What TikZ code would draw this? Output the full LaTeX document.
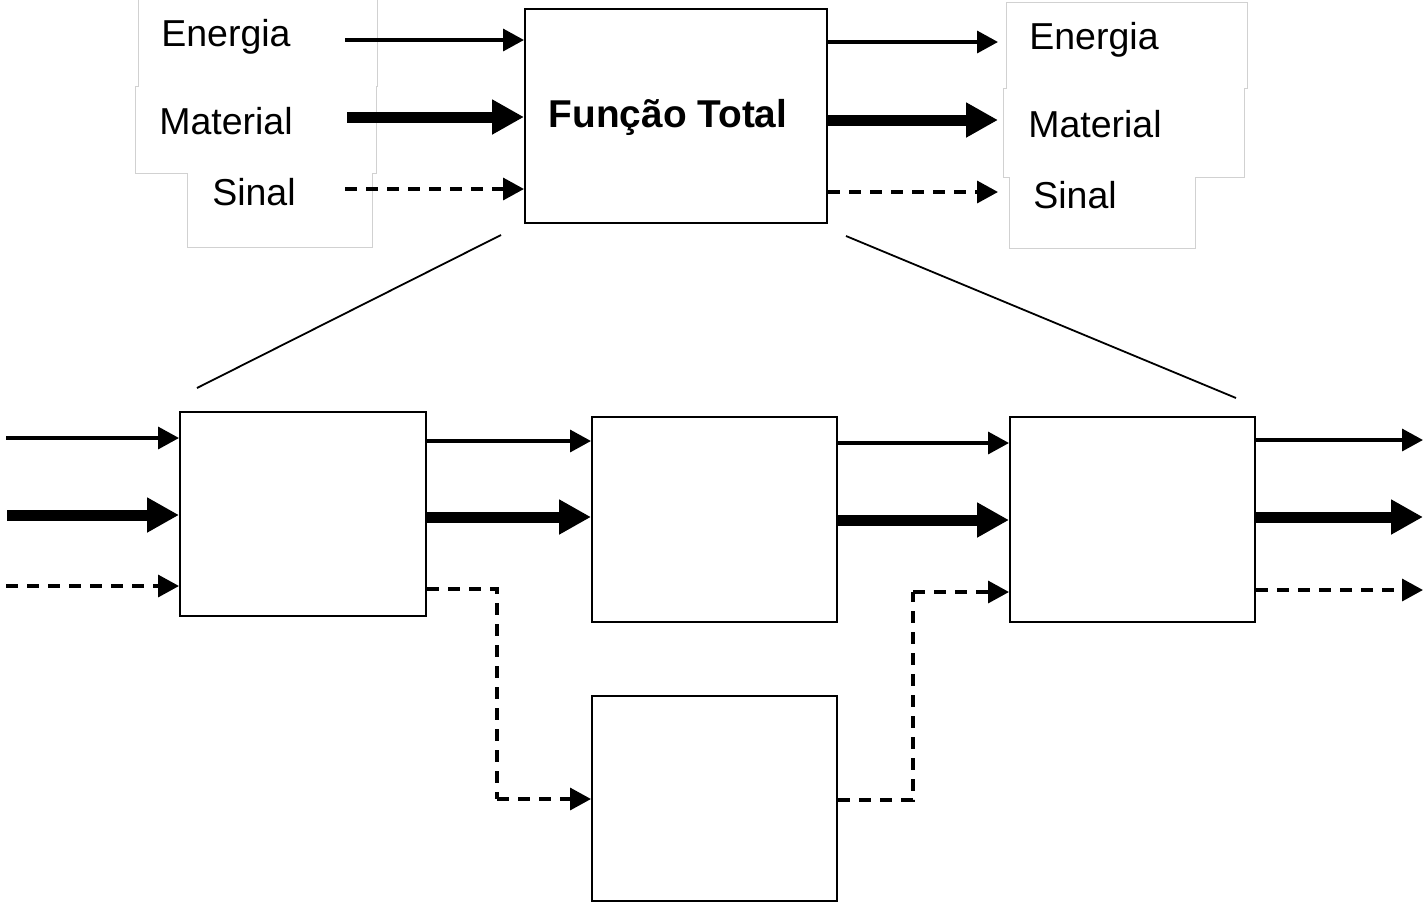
\documentclass[tikz,border=0pt]{standalone}
\usepackage{fontspec}
\setmainfont{Liberation Sans}
\usetikzlibrary{arrows.meta}
\begin{document}
\begin{tikzpicture}[x=1pt,y=-1pt,
  blk/.style={draw,line width=2.2pt,inner sep=0pt,anchor=north west,fill=white},
  en/.style={line width=3.5pt,-{Triangle[length=21pt,width=22pt]}},
  mat/.style={line width=11pt,-{Triangle[length=32pt,width=33pt]}},
  sig/.style={line width=3.5pt,dash pattern=on 12pt off 9pt,-{Triangle[length=21pt,width=22pt]}},
  sigl/.style={line width=3.5pt,dash pattern=on 12pt off 9pt},
  lbl/.style={font=\fontsize{37.5}{42}\selectfont,inner sep=0pt,anchor=base},
  ghost/.style={draw=black!18,line width=0.8pt},
  zoomline/.style={line width=1.8pt}
]
\useasboundingbox (0,0) rectangle (1425,903);

% faint text-box outlines
\draw[ghost] (138,0) -- (138,86) -- (135,86) -- (135,173) -- (187,173) -- (187,247) -- (372,247) -- (372,173) -- (376,173) -- (376,86) -- (377,86) -- (377,0);
\draw[ghost] (1006,2) -- (1247,2) -- (1247,88) -- (1244,88) -- (1244,177) -- (1195,177) -- (1195,248) -- (1009,248) -- (1009,177) -- (1003,177) -- (1003,88) -- (1006,88) -- cycle;

% labels
\node[lbl] (lE) at (226,46) {Energia};
\node[lbl] (lM) at (226,134) {Material};
\node[lbl] (lS) at (254,205) {Sinal};
\node[lbl] (rE) at (1094,49) {Energia};
\node[lbl] (rM) at (1095,137) {Material};
\node[lbl] (rS) at (1075,208) {Sinal};

% top box
\node[blk,minimum width=302pt,minimum height=214pt] (top) at (524,8) {};
\node[lbl,font=\fontsize{38.8}{44}\selectfont\bfseries] (ttl) at (668,127) {Função Total};

% lower boxes
\node[blk,minimum width=246pt,minimum height=204pt] (b1) at (179,411) {};
\node[blk,minimum width=245pt,minimum height=205pt] (b2) at (591,416) {};
\node[blk,minimum width=245pt,minimum height=205pt] (b3) at (1009,416) {};
\node[blk,minimum width=245pt,minimum height=205pt] (b4) at (591,695) {};

% free-end coordinates
\coordinate (iE) at (345,40);
\coordinate (iM) at (347,117);
\coordinate (iS) at (345,189);
\coordinate (oE) at (998,42);
\coordinate (oM) at (998,120);
\coordinate (oS) at (998,192);

\draw[en] (iE) -- (top.west |- iE);
\draw[mat] (iM) -- (top.west |- iM);
\draw[sig] (iS) -- (top.west |- iS);
\draw[en] (top.east |- oE) -- (oE);
\draw[mat] (top.east |- oM) -- (oM);
\draw[sig] (top.east |- oS) -- (oS);

% zoom lines
\coordinate (z1a) at (501,235);
\coordinate (z1b) at (197,388);
\coordinate (z2a) at (846,236);
\coordinate (z2b) at (1236,398);
\draw[zoomline] (z1a) -- (z1b);
\draw[zoomline] (z2a) -- (z2b);

% inputs to b1
\coordinate (jE) at (6,438);
\coordinate (jM) at (7,515);
\coordinate (jS) at (6,586);
\draw[en] (jE) -- (b1.west |- jE);
\draw[mat] (jM) -- (b1.west |- jM);
\draw[sig] (jS) -- (b1.west |- jS);

% b1 -> b2
\coordinate (k1) at (0,441);
\coordinate (k2) at (0,517);
\draw[en] (b1.east |- k1) -- (b2.west |- k1);
\draw[mat] (b1.east |- k2) -- (b2.west |- k2);

% b2 -> b3
\coordinate (m1) at (0,443);
\coordinate (m2) at (0,520);
\draw[en] (b2.east |- m1) -- (b3.west |- m1);
\draw[mat] (b2.east |- m2) -- (b3.west |- m2);

% b3 outputs
\coordinate (pE) at (1423,440);
\coordinate (pM) at (1423,517);
\coordinate (pS) at (1423,590);
\draw[en] (b3.east |- pE) -- (pE);
\draw[mat] (b3.east |- pM) -- (pM);
\draw[sig] (b3.east |- pS) -- (pS);

% signal through b4
\coordinate (s1) at (497,589);
\coordinate (s2) at (497,799);
\draw[sigl] (b1.east |- s1) -- (s1) -- (s2);
\draw[sig] (s2) -- (b4.west |- s2);
\coordinate (t1) at (913,800);
\coordinate (t2) at (913,592);
\draw[sigl] (b4.east |- t1) -- (t1) -- (t2);
\draw[sig] (t2) -- (b3.west |- t2);
\end{tikzpicture}
\end{document}
